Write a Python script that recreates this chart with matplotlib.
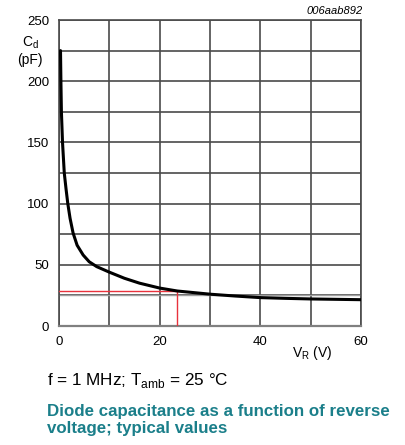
import numpy as np
import matplotlib
matplotlib.use('Agg')
import matplotlib.pyplot as plt

plt.rcParams['font.family'] = ['Liberation Sans', 'DejaVu Sans']

# diode capacitance curve
vr = [0.3, 0.38, 0.48, 0.7, 1.05, 1.4, 1.75, 2.2, 2.8, 3.6, 4.8, 6, 7.5, 10, 13, 16, 20, 23.5, 27, 30, 35, 40, 45, 50, 55, 60]
cd = [225, 200, 175, 150, 125, 112, 100, 88, 76, 66, 58, 52.5, 48.5, 44, 39, 35, 31, 28.6, 27.2, 26.0, 24.5, 23.2, 22.6, 22.1, 21.8, 21.5]

# marker read-out (red) and reference level (grey)
mark_v, mark_c = 23.5, 28.5
ref_c = 25.6

xticks = [0, 20, 40, 60]
yticks = [0, 50, 100, 150, 200, 250]

fig = plt.figure(figsize=(4.06, 4.45), dpi=100)
ax = fig.add_axes([0.1453, 0.2674, 0.7438, 0.6876])

ax.set_xlim(0, 60)
ax.set_ylim(0, 250)
ax.set_xticks(xticks)
ax.set_yticks(yticks)
ax.set_xticks(np.arange(0, 61, 10), minor=True)
ax.set_yticks(np.arange(0, 251, 25), minor=True)
ax.grid(which='both', color='#4a4a4a', linewidth=1.2)
ax.set_axisbelow(True)
ax.tick_params(which='both', length=0, labelsize=9.5, pad=7)
for s in ax.spines.values():
    s.set_color('#4a4a4a')
    s.set_linewidth(1.2)
ax.spines['bottom'].set_color('#808080')
ax.spines['bottom'].set_linewidth(1.6)

ax.axhline(ref_c, color='#a0a0a0', linewidth=1.0, zorder=2)
ax.plot([0, mark_v], [mark_c, mark_c], color='#e8323c', linewidth=1.0, zorder=3)
ax.plot([mark_v, mark_v], [0, mark_c], color='#e8323c', linewidth=1.0, zorder=3)
ax.plot(vr, cd, color='black', linewidth=2.2, zorder=4, solid_capstyle='round')

fig.text(30 / 406, 1 - 43 / 445, r'C$_{\mathregular{d}}$', ha='center', va='center', fontsize=10)
fig.text(30 / 406, 1 - 60 / 445, '(pF)', ha='center', va='center', fontsize=10)
fig.text(312 / 406, 1 - 353 / 445, r'V$_{\mathregular{R}}$ (V)', ha='center', va='center', fontsize=10)
fig.text(363 / 406, 1 - 11 / 445, '006aab892', ha='right', va='center', fontsize=8, style='italic')

fig.text(47 / 406, 1 - 381 / 445, r'f = 1 MHz; T$_{\mathregular{amb}}$ = 25 °C', ha='left', va='center', fontsize=12.3)
fig.text(47 / 406, 1 - 420 / 445, 'Diode capacitance as a function of reverse\nvoltage; typical values',
         ha='left', va='center', fontsize=12.2, fontweight='bold', color='#1b7f8a', linespacing=1.1)

fig.savefig('out.png', dpi=100)
